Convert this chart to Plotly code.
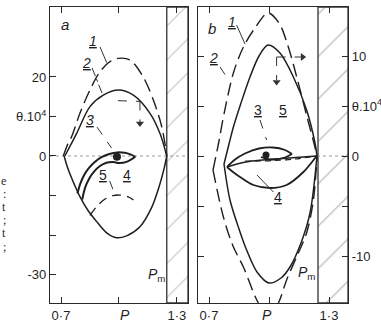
import plotly.graph_objects as go

W, H = 381, 323

# ---------------- panel (a) data ----------------
a_c1_p = [0.712, 0.735, 0.755, 0.798, 0.85, 0.902, 0.954, 0.997, 1.058, 1.126, 1.178, 1.222, 1.248]
a_c1_t = [0.0, 3.0, 4.9, 10.8, 16.7, 21.3, 23.9, 24.7, 24.3, 20.0, 14.2, 7.4, 0.0]

a_c2_p = [0.72, 0.75, 0.781, 0.85, 0.919, 0.997, 1.075, 1.161, 1.213, 1.248]
a_c2_t = [0.0, 2.8, 5.7, 12.5, 15.4, 16.7, 15.4, 10.8, 5.7, 0.0]

a_low_p = [0.716, 0.738, 0.77, 0.798, 0.84, 0.88, 0.94, 0.988, 1.04, 1.109, 1.17, 1.21, 1.235, 1.248]
a_low_t = [0.0, -3.5, -7.3, -10.3, -13.8, -16.3, -19.6, -20.7, -20.2, -17.9, -13.0, -7.5, -3.0, 0.0]

a_arc_p = [0.85, 0.89, 0.928, 0.97, 1.006, 1.045, 1.075]
a_arc_t = [-15.0, -12.5, -10.9, -10.0, -9.9, -10.3, -11.1]

# hook-shaped trajectory: outer branch (over the top) and inner branch
a_hookA_p = [0.785, 0.80, 0.82, 0.845, 0.875, 0.91, 0.95, 0.99, 1.03, 1.06, 1.085]
a_hookA_t = [-9.5, -7.0, -4.8, -3.0, -1.5, -0.3, 0.5, 0.9, 0.8, 0.4, -0.2]
a_hookB_p = [0.81, 0.825, 0.845, 0.87, 0.90, 0.935, 0.97, 1.0, 1.04, 1.085]
a_hookB_t = [-11.0, -8.0, -5.8, -4.0, -2.6, -1.7, -1.5, -1.8, -1.5, -0.2]

a_fix_p, a_fix_t = [0.99], [-0.2]
a_pm = 1.248

# ---------------- panel (b) data ----------------
b_c1u_p = [0.72, 0.75, 0.772, 0.822, 0.872, 0.93, 0.995, 1.05, 1.095, 1.14, 1.19, 1.222, 1.24]
b_c1u_t = [-1.4, 1.5, 3.9, 8.3, 10.9, 12.8, 14.3, 13.3, 11.0, 7.8, 3.9, 1.5, 0.0]
b_c1l_p = [0.72, 0.772, 0.82, 0.872, 0.947, 1.0, 1.047, 1.088, 1.14, 1.188, 1.222, 1.24]
b_c1l_t = [-1.4, -6.1, -9.0, -11.1, -14.7, -16.0, -14.7, -12.4, -10.0, -7.7, -4.4, 0.0]

b_c2u_p = [0.775, 0.80, 0.822, 0.86, 0.905, 0.95, 0.995, 1.055, 1.122, 1.188, 1.23, 1.24]
b_c2u_t = [-0.8, 1.2, 2.9, 5.3, 7.9, 10.0, 11.1, 10.3, 7.9, 4.6, 1.3, 0.0]
b_c2l_p = [0.775, 0.805, 0.85, 0.888, 0.94, 1.0, 1.06, 1.105, 1.16, 1.205, 1.24]
b_c2l_t = [-0.8, -4.4, -7.3, -9.4, -11.6, -12.7, -12.2, -11.1, -8.7, -5.7, 0.0]

b_c4u_p = [0.79, 0.84, 0.9, 1.0, 1.1, 1.238]
b_c4u_t = [-1.1, -0.8, -0.55, -0.35, -0.2, 0.0]
b_c4l_p = [0.79, 0.82, 0.855, 0.922, 1.005, 1.088, 1.172, 1.238]
b_c4l_t = [-1.1, -1.6, -2.1, -2.9, -3.2, -2.9, -1.6, 0.0]

b_c3u_p = [0.79, 0.83, 0.88, 0.95, 1.02, 1.08, 1.115]
b_c3u_t = [-1.1, -0.35, 0.25, 0.75, 0.85, 0.6, 0.2]
b_c3r_p = [1.115, 1.08, 1.03, 0.99, 0.96]
b_c3r_t = [0.2, -0.15, -0.35, -0.3, -0.1]

b_sep_p = [0.88, 0.95, 1.03, 1.13, 1.238]
b_sep_t = [-0.5, -0.5, -0.45, -0.3, 0.0]

b_fix_p, b_fix_t = [0.985], [0.1]
b_pm = 1.245

# ---------------- axes windows and ticks ----------------
a_xr, a_yr = [0.643, 1.358], [-37.2, 37.7]
b_xr, b_yr = [0.645, 1.395], [-14.7, 14.9]
p_ticks = [0.7, 1.3]
p_labels = ["0·7", "1·3"]
p_minor = [1.0]
a_t_ticks = [-30, 0, 10, 20]
a_t_labels = ["-30", "0", "θ.10<sup>4</sup>", "20"]
a_t_minor = [-20, -10]
b_t_ticks = [-10, 0, 5, 10]
b_t_labels = ["-10", "0", "θ.10<sup>4</sup>", "10"]
b_t_minor = [-5]

INK = "#1f1f1f"
fig = go.Figure()


def curve(p, t, xa, ya, width=1.4, dash="solid", color=INK):
    fig.add_trace(go.Scatter(x=p, y=t, xaxis=xa, yaxis=ya, mode="lines",
                             line=dict(color=color, width=width, dash=dash,
                                       shape="spline", smoothing=0.9),
                             hoverinfo="skip", showlegend=False))


def hatch(pm, xr, yr, xa, ya, size):
    fig.add_trace(go.Scatter(x=[pm, xr[1], xr[1], pm, pm],
                             y=[yr[0], yr[0], yr[1], yr[1], yr[0]],
                             xaxis=xa, yaxis=ya, mode="lines", fill="toself",
                             fillcolor="rgba(255,255,255,0)",
                             fillpattern=dict(shape="/", size=size, solidity=0.05,
                                              fgcolor="#8a8a8a", bgcolor="white"),
                             line=dict(color="#333", width=1.3),
                             hoverinfo="skip", showlegend=False))


def arrowhead(xa, ya, x, y, symbol):
    fig.add_trace(go.Scatter(x=[x], y=[y], xaxis=xa, yaxis=ya, mode="markers",
                             marker=dict(symbol=symbol, size=7, color="#333"),
                             hoverinfo="skip", showlegend=False))


LONG = "13px,6px"

# panel (a)
hatch(a_pm, a_xr, a_yr, "x", "y", 24)
fig.add_trace(go.Scatter(x=a_xr, y=[0, 0], xaxis="x", yaxis="y", mode="lines",
                         line=dict(color="#9a9a9a", width=1, dash="dot"),
                         hoverinfo="skip", showlegend=False))
curve(a_c1_p, a_c1_t, "x", "y", 1.4, LONG)
curve(a_c2_p, a_c2_t, "x", "y", 1.5)
curve(a_low_p, a_low_t, "x", "y", 1.5)
curve(a_arc_p, a_arc_t, "x", "y", 1.3, "9px,6px")
curve(a_hookA_p, a_hookA_t, "x", "y", 2.0)
curve(a_hookB_p, a_hookB_t, "x", "y", 2.0)
fig.add_trace(go.Scatter(x=a_fix_p, y=a_fix_t, xaxis="x", yaxis="y", mode="markers",
                         marker=dict(color=INK, size=8), hoverinfo="skip", showlegend=False))

# panel (b)
hatch(b_pm, b_xr, b_yr, "x2", "y2", 30)
fig.add_trace(go.Scatter(x=[1.24, b_xr[1]], y=[0, 0], xaxis="x2", yaxis="y2", mode="lines",
                         line=dict(color="#9a9a9a", width=1, dash="dot"),
                         hoverinfo="skip", showlegend=False))
curve(b_c1u_p, b_c1u_t, "x2", "y2", 1.4, LONG)
curve(b_c1l_p, b_c1l_t, "x2", "y2", 1.4, LONG)
curve(b_c2u_p, b_c2u_t, "x2", "y2", 1.5)
curve(b_c2l_p, b_c2l_t, "x2", "y2", 1.5)
curve(b_c4u_p, b_c4u_t, "x2", "y2", 1.5)
curve(b_c4l_p, b_c4l_t, "x2", "y2", 1.8)
curve(b_c3u_p, b_c3u_t, "x2", "y2", 1.8)
curve(b_c3r_p, b_c3r_t, "x2", "y2", 1.8)
curve(b_sep_p, b_sep_t, "x2", "y2", 1.2, "6px,4px")
fig.add_trace(go.Scatter(x=b_fix_p, y=b_fix_t, xaxis="x2", yaxis="y2", mode="markers",
                         marker=dict(color=INK, size=7), hoverinfo="skip", showlegend=False))

# ---------------- leader lines and arrows ----------------
shapes = []


def seg(xa, ya, x0, y0, x1, y1, dash="solid", width=1.0):
    shapes.append(dict(type="line", xref=xa, yref=ya, x0=x0, y0=y0, x1=x1, y1=y1,
                       line=dict(color="#333", width=width, dash=dash)))


seg("x", "y", 0.902, 27.6, 0.937, 23.6)
seg("x", "y", 0.861, 22.3, 0.915, 15.6, "dashdot")
seg("x", "y", 0.887, 7.3, 0.962, 2.0, "dash")
seg("x", "y", 0.952, -6.3, 0.98, -9.8, "dash")
seg("x", "y", 0.995, 14.0, 1.109, 13.8, "dash")
seg("x", "y", 1.109, 13.8, 1.109, 8.6, "dash")

seg("x2", "y2", 0.838, 13.1, 0.88, 11.2)
seg("x2", "y2", 0.755, 8.9, 0.805, 7.4, "dash")
seg("x2", "y2", 0.955, 3.6, 0.988, 1.6, "dash")
seg("x2", "y2", 1.022, -3.6, 0.94, -1.9)
seg("x2", "y2", 1.038, 9.9, 1.16, 9.9, "dash")
seg("x2", "y2", 1.038, 9.9, 1.038, 7.6, "dash")

arrowhead("x", "y", 1.109, 8.2, "triangle-down")
arrowhead("x2", "y2", 1.168, 9.9, "triangle-right")
arrowhead("x2", "y2", 1.038, 7.4, "triangle-down")

annots = []


def label(xa, ya, x, y, text, size=14, family="Liberation Sans"):
    annots.append(dict(xref=xa, yref=ya, x=x, y=y, text=text, showarrow=False,
                       font=dict(family=family, size=size, color=INK),
                       xanchor="center", yanchor="middle"))


# curve numbers
label("x", "y", 0.866, 29.0, "<i><u>1</u></i>")
label("x", "y", 0.83, 23.6, "<i><u>2</u></i>")
label("x", "y", 0.85, 9.2, "<i><u>3</u></i>")
label("x", "y", 0.918, -4.8, "<u>5</u>")
label("x", "y", 1.042, -4.8, "<u>4</u>")
label("x", "y", 0.721, 33.2, "<i>a</i>", 15)
label("x", "y", 1.197, -30.0, "<i>P</i><sub>m</sub>", 14)

label("x2", "y2", 0.813, 13.4, "<i><u>1</u></i>")
label("x2", "y2", 0.722, 9.8, "<i><u>2</u></i>")
label("x2", "y2", 0.947, 4.6, "<u>3</u>")
label("x2", "y2", 1.072, 4.6, "<u>5</u>")
label("x2", "y2", 1.047, -4.1, "<u>4</u>")
label("x2", "y2", 0.713, 12.8, "<i>b</i>", 15)
label("x2", "y2", 1.188, -11.7, "<i>P</i><sub>m</sub>", 14)

# axis titles
for xp in (125, 267):
    annots.append(dict(xref="paper", yref="paper", x=xp / W, y=1 - 315 / H, text="<i>P</i>",
                       showarrow=False, font=dict(family="Liberation Sans", size=14, color=INK),
                       xanchor="center", yanchor="middle"))

# fragments of the neighbouring caption column
for ch, yp in zip(["e", ":", "t", ";", "t", ";"], [181, 194, 207, 220, 233, 247]):
    annots.append(dict(xref="paper", yref="paper", x=8 / W, y=1 - yp / H, text=ch,
                       showarrow=False, font=dict(family="Liberation Serif", size=12, color=INK),
                       xanchor="right", yanchor="middle"))

axis_common = dict(showline=True, linecolor="#2a2a2a", linewidth=1.3, ticks="inside",
                   ticklen=6, tickcolor="#2a2a2a", tickwidth=1.1, showgrid=False,
                   zeroline=False, tickfont=dict(family="Liberation Sans", size=13, color=INK))
minor_common = dict(ticks="inside", ticklen=6, tickcolor="#2a2a2a", tickwidth=1.1, showgrid=False)
ydom = [1 - 303 / H, 1 - 7 / H]

fig.update_layout(
    width=W, height=H, margin=dict(l=0, r=0, t=0, b=0),
    paper_bgcolor="white", plot_bgcolor="white", showlegend=False,
    xaxis=dict(domain=[50 / W, 188 / W], range=a_xr, tickvals=p_ticks, ticktext=p_labels,
               minor=dict(tickvals=p_minor, **minor_common),
               mirror="ticks", anchor="y", **axis_common),
    yaxis=dict(domain=ydom, range=a_yr, tickvals=a_t_ticks, ticktext=a_t_labels,
               minor=dict(tickvals=a_t_minor, **minor_common),
               mirror=True, anchor="x", **axis_common),
    xaxis2=dict(domain=[198 / W, 348 / W], range=b_xr, tickvals=p_ticks, ticktext=p_labels,
                minor=dict(tickvals=p_minor, **minor_common),
                mirror="ticks", anchor="y2", **axis_common),
    yaxis2=dict(domain=ydom, range=b_yr, tickvals=b_t_ticks, ticktext=b_t_labels,
                minor=dict(tickvals=b_t_minor, **minor_common),
                mirror="ticks", side="right", anchor="x2", **axis_common),
    shapes=shapes, annotations=annots,
)

fig.write_html("out.html")
